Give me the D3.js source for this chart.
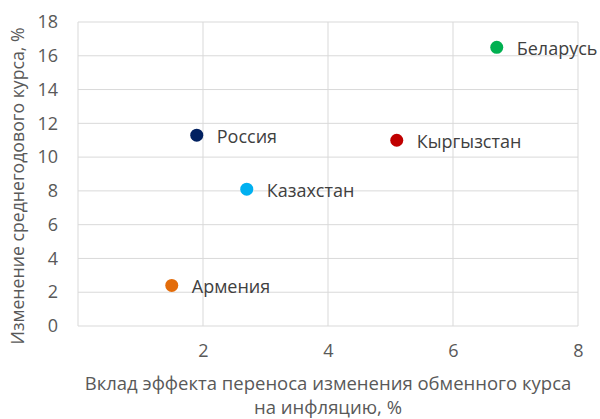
<!DOCTYPE html>
<html>
<head>
<meta charset="utf-8">
<script src="https://cdn.jsdelivr.net/npm/d3@7"></script>
<style>
  body { margin: 0; background: #fff; }
  text { font-family: "Open Sans", sans-serif; }
</style>
</head>
<body>
<svg id="chart" width="600" height="419"></svg>
<script>
// data
const countries = ["Россия", "Казахстан", "Армения", "Беларусь", "Кыргызстан"];
const passThrough = [1.9, 2.7, 1.5, 6.7, 5.1];
const rateChange = [11.3, 8.1, 2.4, 16.5, 11.0];
const colors = ["#002060", "#00b0f0", "#e36c0a", "#00b050", "#c00000"];
const xTicks = [2, 4, 6, 8];
const yTicks = [0, 2, 4, 6, 8, 10, 12, 14, 16, 18];

const margin = { top: 22, right: 22, bottom: 93, left: 78 };
const W = 600, H = 419;
const width = W - margin.left - margin.right;
const height = H - margin.top - margin.bottom;

const svg = d3.select('#chart');
const g = svg.append('g')
  .attr('transform', `translate(${margin.left},${margin.top})`);

const x = d3.scaleLinear().domain([0, 8]).range([0, width]);
const y = d3.scaleLinear().domain([0, 18]).range([height, 0]);

// grid
g.selectAll('.hgrid').data(yTicks).enter().append('line')
  .attr('x1', 0).attr('x2', width)
  .attr('y1', d => y(d)).attr('y2', d => y(d))
  .attr('stroke', '#d9d9d9').attr('stroke-width', 1);
g.selectAll('.vgrid').data([0].concat(xTicks)).enter().append('line')
  .attr('x1', d => x(d)).attr('x2', d => x(d))
  .attr('y1', 0).attr('y2', height)
  .attr('stroke', '#d9d9d9').attr('stroke-width', 1);

// y tick labels
const yAxis = g.append('g')
  .call(d3.axisLeft(y).tickValues(yTicks).tickSize(0).tickPadding(20));
yAxis.select('.domain').remove();
yAxis.selectAll('text')
  .attr('fill', '#595959')
  .style('font-size', '18px')
  .style('font-family', '"Open Sans", sans-serif');

// x tick labels (sit lower, below the plot)
const xAxis = g.append('g')
  .attr('transform', `translate(0,${height})`)
  .call(d3.axisBottom(x).tickValues(xTicks).tickSize(0).tickPadding(18));
xAxis.select('.domain').remove();
xAxis.selectAll('text')
  .attr('fill', '#595959')
  .style('font-size', '18px')
  .style('font-family', '"Open Sans", sans-serif');

// points
const pts = countries.map((c, i) => ({ name: c, x: passThrough[i], y: rateChange[i], color: colors[i] }));

g.selectAll('.dot').data(pts).enter().append('circle')
  .attr('cx', d => x(d.x)).attr('cy', d => y(d.y))
  .attr('r', 6.5)
  .attr('fill', d => d.color);

g.selectAll('.lbl').data(pts).enter().append('text')
  .attr('x', d => x(d.x) + 20).attr('y', d => y(d.y) + 3)
  .attr('dominant-baseline', 'middle')
  .attr('fill', '#404040')
  .style('font-size', '18px')
  .text(d => d.name);

// axis titles
svg.append('text')
  .attr('x', margin.left + width / 2).attr('y', 390)
  .attr('text-anchor', 'middle')
  .attr('fill', '#595959')
  .style('font-size', '18.5px')
  .text('Вклад эффекта переноса изменения обменного курса');
svg.append('text')
  .attr('x', margin.left + width / 2).attr('y', 414)
  .attr('text-anchor', 'middle')
  .attr('fill', '#595959')
  .style('font-size', '18.5px')
  .text('на инфляцию, %');

svg.append('text')
  .attr('transform', `translate(24,${186}) rotate(-90)`)
  .attr('text-anchor', 'middle')
  .attr('fill', '#595959')
  .style('font-size', '17.7px')
  .text('Изменение среднегодового курса, %');
</script>
</body>
</html>
